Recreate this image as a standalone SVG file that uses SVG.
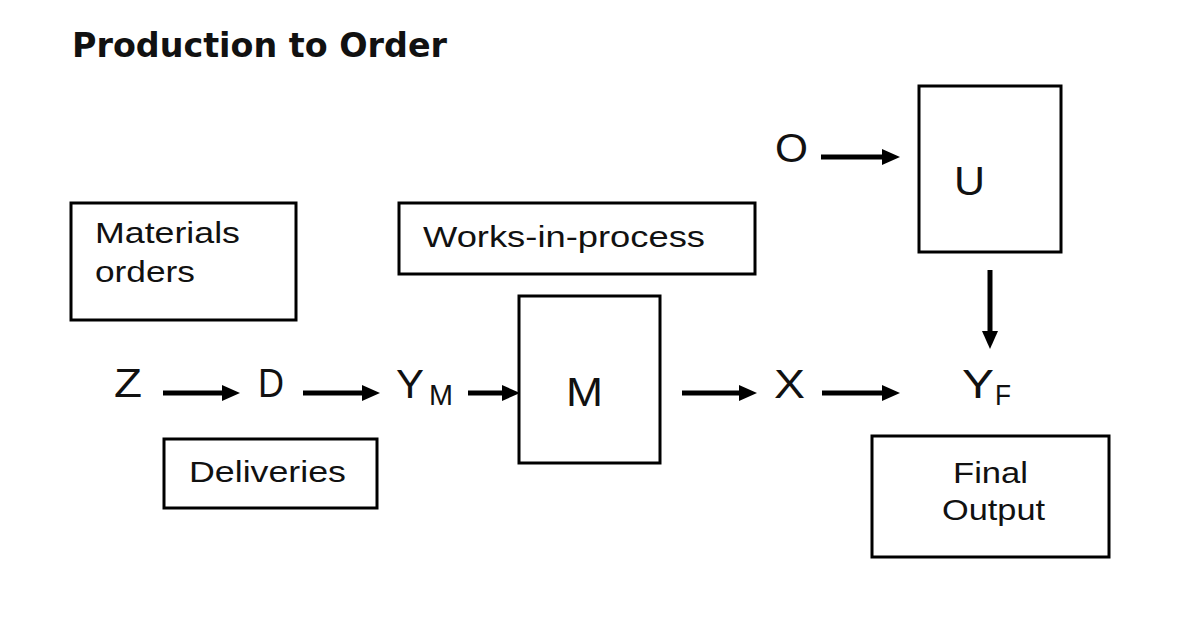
<svg xmlns="http://www.w3.org/2000/svg" width="1195" height="625" viewBox="0 0 1195 625">
<style>
.box{fill:#fff;stroke:#000;stroke-width:3}
.lbl{font-family:"Liberation Sans",Arial,sans-serif;font-size:30px;fill:#111}
.sym{font-family:"Liberation Sans",Arial,sans-serif;font-size:41px;fill:#111}
.sub{font-family:"Liberation Sans",Arial,sans-serif;font-size:30px;fill:#111}
.title{font-family:"DejaVu Sans",sans-serif;font-weight:bold;font-size:33px;fill:#111}
.arr{stroke:#000;stroke-width:5;fill:none;marker-end:url(#ah)}
</style>
<defs>
<marker id="ah" markerUnits="userSpaceOnUse" markerWidth="18" markerHeight="18" refX="8" refY="8" orient="auto" viewBox="0 0 18 18">
<path d="M0,0 L18,8 L0,16 z" fill="#000"/>
</marker>
</defs>
<rect width="1195" height="625" fill="#fff"/>
<text class="title" x="72" y="57" textLength="375" lengthAdjust="spacingAndGlyphs">Production to Order</text>

<g id="materials-orders">
<rect class="box" x="71" y="203" width="225" height="117"/>
<text class="lbl" x="95" y="243" textLength="145" lengthAdjust="spacingAndGlyphs">Materials</text>
<text class="lbl" x="95" y="282" textLength="100" lengthAdjust="spacingAndGlyphs">orders</text>
</g>
<g id="works-in-process">
<rect class="box" x="399" y="203" width="356" height="71"/>
<text class="lbl" x="423" y="247" textLength="282" lengthAdjust="spacingAndGlyphs">Works-in-process</text>
</g>
<g id="deliveries">
<rect class="box" x="164" y="439" width="213" height="69"/>
<text class="lbl" x="189" y="482" textLength="157" lengthAdjust="spacingAndGlyphs">Deliveries</text>
</g>
<g id="final-output">
<rect class="box" x="872" y="436" width="237" height="121"/>
<text class="lbl" x="953" y="483" textLength="75" lengthAdjust="spacingAndGlyphs">Final</text>
<text class="lbl" x="942" y="520" textLength="103" lengthAdjust="spacingAndGlyphs">Output</text>
</g>
<g id="M">
<rect class="box" x="519" y="296" width="141" height="167"/>
<text class="sym" x="566" y="406" textLength="37" lengthAdjust="spacingAndGlyphs">M</text>
</g>
<g id="U">
<rect class="box" x="919" y="86" width="142" height="166"/>
<text class="sym" x="954" y="195" textLength="31" lengthAdjust="spacingAndGlyphs">U</text>
</g>
<g id="Z"><text class="sym" x="114" y="397" textLength="28" lengthAdjust="spacingAndGlyphs">Z</text></g>
<g id="D"><text class="sym" x="258" y="397" textLength="26" lengthAdjust="spacingAndGlyphs">D</text></g>
<g id="YM"><text class="sym" x="396" y="398" textLength="28" lengthAdjust="spacingAndGlyphs">Y</text><text class="sub" x="429" y="405" textLength="24" lengthAdjust="spacingAndGlyphs">M</text></g>
<g id="X"><text class="sym" x="774" y="398" textLength="31" lengthAdjust="spacingAndGlyphs">X</text></g>
<g id="YF"><text class="sym" x="962" y="398" textLength="32" lengthAdjust="spacingAndGlyphs">Y</text><text class="sub" x="995" y="405" textLength="16" lengthAdjust="spacingAndGlyphs">F</text></g>
<g id="O"><text class="sym" x="775" y="162" textLength="33" lengthAdjust="spacingAndGlyphs">O</text></g>

<g id="connectors">
<line class="arr" x1="163" y1="393" x2="230" y2="393"/>
<line class="arr" x1="303" y1="393" x2="370" y2="393"/>
<line class="arr" x1="468" y1="393" x2="510" y2="393"/>
<line class="arr" x1="682" y1="393" x2="747" y2="393"/>
<line class="arr" x1="822" y1="393" x2="890" y2="393"/>
<line class="arr" x1="821" y1="157" x2="890" y2="157"/>
<line class="arr" x1="990" y1="270" x2="990" y2="339"/>
</g>
</svg>
